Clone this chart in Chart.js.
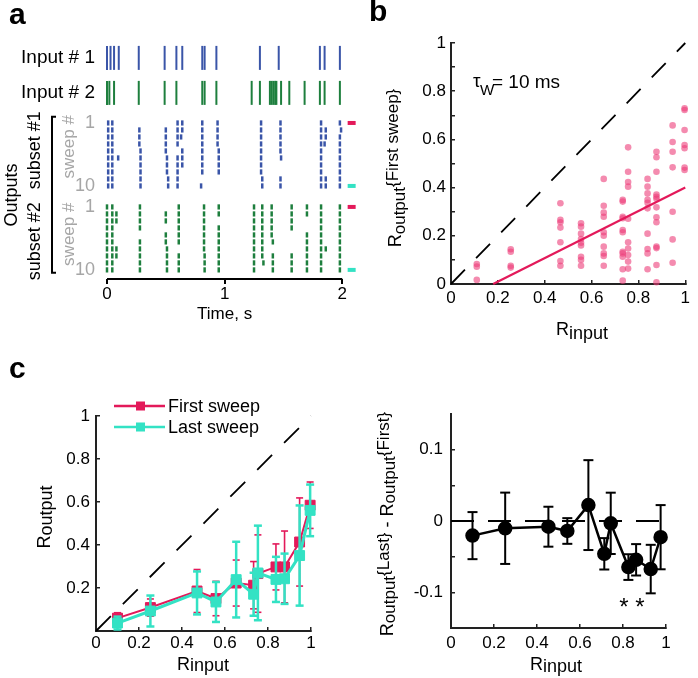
<!DOCTYPE html>
<html>
<head>
<meta charset="utf-8">
<script src="https://cdn.jsdelivr.net/npm/chart.js@4.4.1/dist/chart.umd.min.js"></script>
<style>
  body { margin: 0; background: #fff; width: 698px; height: 678px; overflow: hidden; position: relative; }
  canvas { position: absolute; }
</style>
</head>
<body>
<canvas id="chartA" width="368" height="330" style="left:0;top:0"></canvas>
<canvas id="chartB" width="348" height="350" style="left:350px;top:0"></canvas>
<canvas id="chartC1" width="350" height="348" style="left:0;top:330px"></canvas>
<canvas id="chartC2" width="348" height="348" style="left:350px;top:330px"></canvas>
<script>
// ---- panel a: spike times (s)
const input1Spikes = [0.0, 0.03, 0.06, 0.10, 0.27, 0.49, 0.59, 0.64, 0.81, 0.83, 0.93, 1.30, 1.46, 1.81, 1.85, 1.98];
const input2Spikes = [0.0, 0.02, 0.06, 0.27, 0.49, 0.59, 0.81, 0.83, 0.93, 1.23, 1.30, 1.385, 1.40, 1.415, 1.43, 1.44, 1.48, 1.55, 1.68, 1.81, 1.85, 1.98];
const subset1Sweeps = [
  [0.01, 0.045, 0.60, 0.64, 0.81, 0.94, 1.31, 1.475, 1.82, 1.98],
  [0.01, 0.045, 0.275, 0.50, 0.60, 0.64, 0.81, 0.94, 1.31, 1.475, 1.82, 1.86, 1.99],
  [0.01, 0.045, 0.275, 0.50, 0.60, 0.63, 0.81, 0.94, 1.31, 1.475, 1.82, 1.86, 1.98],
  [0.01, 0.045, 0.275, 0.50, 0.60, 0.81, 0.94, 1.31, 1.475, 1.82, 1.85, 1.98],
  [0.01, 0.045, 0.285, 0.50, 0.64, 0.81, 0.95, 1.31, 1.475, 1.82, 1.98],
  [0.01, 0.045, 0.095, 0.285, 0.51, 0.60, 0.64, 0.81, 0.95, 1.31, 1.48, 1.82, 1.98],
  [0.01, 0.045, 0.285, 0.51, 0.60, 0.64, 0.81, 0.95, 1.31, 1.82, 1.98],
  [0.01, 0.045, 0.285, 0.51, 0.60, 0.81, 0.95, 1.31, 1.82, 1.98],
  [0.01, 0.045, 0.285, 0.52, 0.60, 1.32, 1.475, 1.82, 1.86, 1.98],
  [0.01, 0.045, 0.285, 0.52, 0.60, 0.80, 1.32, 1.475, 1.82, 1.86, 1.98]
];
const subset2Sweeps = [
  [0.0, 0.045, 0.28, 0.61, 0.825, 0.95, 1.25, 1.32, 1.40, 1.57, 1.70, 1.82, 1.98],
  [0.0, 0.045, 0.08, 0.28, 0.50, 0.61, 0.825, 0.95, 1.25, 1.32, 1.40, 1.57, 1.70, 1.82, 1.98],
  [0.0, 0.045, 0.08, 0.28, 0.50, 0.61, 0.825, 1.25, 1.32, 1.40, 1.57, 1.82, 1.98],
  [0.0, 0.045, 0.28, 0.61, 0.825, 0.95, 1.25, 1.32, 1.40, 1.57, 1.82, 1.98],
  [0.0, 0.045, 0.50, 0.61, 0.825, 0.95, 1.25, 1.32, 1.40, 1.70, 1.82, 1.98],
  [0.0, 0.045, 0.28, 0.50, 0.61, 0.825, 0.95, 1.25, 1.32, 1.41, 1.70, 1.82, 1.98],
  [0.0, 0.045, 0.08, 0.28, 0.51, 0.825, 0.95, 1.25, 1.32, 1.70, 1.82, 1.86, 1.98],
  [0.0, 0.045, 0.08, 0.28, 0.51, 0.61, 0.83, 0.95, 1.25, 1.32, 1.41, 1.57, 1.70, 1.82, 1.98],
  [0.0, 0.045, 0.28, 0.51, 0.61, 0.83, 0.95, 1.25, 1.33, 1.41, 1.57, 1.70, 1.82, 1.98],
  [0.0, 0.045, 0.28, 0.51, 0.61, 0.83, 0.95, 1.25, 1.41, 1.57, 1.70, 1.82, 1.98]
];
const timeTicks = [0, 1, 2];
const rowLabels = ['Input # 1', 'Input # 2', '1', '10', '1', '10'];

// ---- panel b: R_input levels and R_output (first sweep) values
const bInputLevels = [0.11, 0.255, 0.467, 0.555, 0.652, 0.733, 0.756, 0.839, 0.877, 0.946, 0.997];
const bOutputValues = [
  [0.083, 0.072, 0.017],
  [0.144, 0.134, 0.076, 0.068],
  [0.335, 0.266, 0.256, 0.234, 0.173, 0.095, 0.076],
  [0.252, 0.238, 0.209, 0.187, 0.171, 0.16, 0.113, 0.1, 0.076],
  [0.436, 0.325, 0.296, 0.279, 0.215, 0.2, 0.155, 0.127, 0.116, 0.076],
  [0.349, 0.342, 0.279, 0.273, 0.224, 0.215, 0.134, 0.127, 0.113, 0.061, 0.014],
  [0.567, 0.466, 0.423, 0.404, 0.271, 0.173, 0.147, 0.12, 0.093, 0.064],
  [0.436, 0.404, 0.376, 0.349, 0.337, 0.314, 0.209, 0.145, 0.127, 0.061],
  [0.549, 0.526, 0.466, 0.371, 0.362, 0.354, 0.318, 0.277, 0.256, 0.155, 0.149, 0.079, 0.007],
  [0.658, 0.589, 0.549, 0.484, 0.3, 0.185, 0.088],
  [0.729, 0.722, 0.639, 0.577, 0.563, 0.483, 0.473]
];
const bFitX = [0.18, 1];
const bFitY = [0, 0.40];
const unitTicks = [0, 0.2, 0.4, 0.6, 0.8, 1];
const unitMinorTicks = [0, 0.1, 0.2, 0.3, 0.4, 0.5, 0.6, 0.7, 0.8, 0.9, 1];

// ---- panel c (left): mean +- error per R_input
const cInput = [0.10, 0.253, 0.47, 0.558, 0.652, 0.733, 0.753, 0.837, 0.877, 0.947, 0.996];
const firstMean = [0.06, 0.109, 0.186, 0.151, 0.223, 0.213, 0.267, 0.298, 0.298, 0.414, 0.585];
const firstErr = [0.025, 0.04, 0.10, 0.08, 0.107, 0.11, 0.18, 0.107, 0.167, 0.205, 0.108];
const lastMean = [0.037, 0.093, 0.177, 0.135, 0.239, 0.171, 0.27, 0.24, 0.243, 0.351, 0.561];
const lastErr = [0.03, 0.072, 0.10, 0.093, 0.176, 0.10, 0.22, 0.105, 0.117, 0.233, 0.12];
const cYTicks = [0.2, 0.4, 0.6, 0.8, 1];

// ---- panel c (right): difference last - first
const dInput = [0.10, 0.252, 0.453, 0.541, 0.639, 0.713, 0.743, 0.825, 0.861, 0.929, 0.975];
const dMean = [-0.0205, -0.0102, -0.008, -0.014, 0.0223, -0.046, -0.0033, -0.0646, -0.0544, -0.0674, -0.0227];
const dErr = [0.033, 0.05, 0.028, 0.018, 0.063, 0.022, 0.043, 0.018, 0.022, 0.034, 0.045];
const dYTicks = [-0.1, -0.05, 0, 0.05, 0.1];
const dYLabels = {'-0.1': '-0.1', '0': '0', '0.1': '0.1'};

const FONT = '"Liberation Sans", Arial, Helvetica, sans-serif';
const BLUE = '#3a55a8';
const GREEN = '#1e7f3e';
const RED = '#e3195a';
const CYAN = '#33e2c4';
const PINK = 'rgba(236, 62, 122, 0.6)';
const AXIS = '#222';

Chart.defaults.font.family = FONT;
Chart.defaults.color = '#000';
Chart.defaults.animation = false;
Chart.defaults.events = [];
Chart.defaults.plugins.legend.display = false;
Chart.defaults.plugins.tooltip.enabled = false;

// row layout of the raster (y axis in row units)
const ROW_IN1 = 0.7, ROW_IN2 = 5.7, ROW_SUB1 = 10, ROW_SUB2 = 22, A_YMIN = -1, A_YMAX = 32.3;

const fixWidth = w => s => { s.width = w; };
const fixHeight = h => s => { s.height = h; };
const setTicks = vals => s => { s.ticks = vals.map(v => ({value: v})); };
const fmt = v => String(Math.round(v * 100) / 100);

function richText(ctx, parts, x, y, rotate) {
  ctx.save();
  ctx.translate(x, y);
  if (rotate) ctx.rotate(-Math.PI / 2);
  ctx.textBaseline = 'alphabetic';
  ctx.textAlign = 'left';
  ctx.fillStyle = '#000';
  let total = 0;
  const widths = parts.map(p => {
    ctx.font = p[1] + 'px ' + FONT;
    const w = ctx.measureText(p[0]).width;
    total += w;
    return w;
  });
  let cx = -total / 2;
  parts.forEach((p, i) => {
    ctx.font = p[1] + 'px ' + FONT;
    ctx.fillText(p[0], cx, p[2] || 0);
    cx += widths[i];
  });
  ctx.restore();
}

function rotatedLabel(ctx, text, x, y, size, color) {
  ctx.save();
  ctx.translate(x, y);
  ctx.rotate(-Math.PI / 2);
  ctx.font = size + 'px ' + FONT;
  ctx.fillStyle = color;
  ctx.textAlign = 'center';
  ctx.textBaseline = 'middle';
  ctx.fillText(text, 0, 0);
  ctx.restore();
}

function panelLetter(ctx, letter, x, y) {
  ctx.save();
  ctx.font = 'bold 30px ' + FONT;
  ctx.fillStyle = '#000';
  ctx.textBaseline = 'alphabetic';
  ctx.fillText(letter, x, y);
  ctx.restore();
}

function errorBarData(xs, means, errs) {
  const pts = [];
  xs.forEach((x, i) => {
    pts.push({x: x, y: means[i] - errs[i]}, {x: x, y: means[i] + errs[i]}, {x: x, y: null});
  });
  return pts;
}

function linAxis(min, max, ticks, labelFn, size, padding, fit, extra) {
  return Object.assign({
    type: 'linear', min: min, max: max,
    afterBuildTicks: setTicks(ticks),
    grid: {display: true, drawOnChartArea: false, drawTicks: true, tickLength: -4, color: AXIS, lineWidth: 1.5},
    border: {display: true, color: AXIS, width: 2},
    ticks: {font: {size: size}, padding: padding, autoSkip: false, maxRotation: 0, callback: labelFn}
  }, fit, extra || {});
}

// ---------------- panel a: raster
const spikeSet = (pts, color, r, w) => ({
  data: pts, pointStyle: 'line', pointRotation: 90, pointRadius: r,
  pointBorderWidth: w, pointBorderColor: color, borderColor: color, clip: false
});
const rowPoints = (times, row) => times.map(t => ({x: t, y: row}));
const sweepPoints = (sweeps, row0) => sweeps.flatMap((ts, k) => ts.map(t => ({x: t, y: row0 + k})));

const panelAPlugin = {
  id: 'panelA',
  afterDraw(chart) {
    const ctx = chart.ctx, ys = chart.scales.y, xs = chart.scales.x;
    panelLetter(ctx, 'a', 9, 24);
    rotatedLabel(ctx, 'Outputs', 12, ys.getPixelForValue(20.3), 18, '#000');
    rotatedLabel(ctx, 'subset #1', 35, ys.getPixelForValue(13.9), 18, '#000');
    rotatedLabel(ctx, 'subset #2', 35, ys.getPixelForValue(26.9), 18, '#000');
    rotatedLabel(ctx, 'sweep #', 69, ys.getPixelForValue(13.4), 17, '#a6a6a6');
    rotatedLabel(ctx, 'sweep #', 69, ys.getPixelForValue(25.9), 17, '#a6a6a6');
    // bracket grouping the two subsets
    const top = ys.getPixelForValue(9.1), bot = ys.getPixelForValue(31.4);
    ctx.save();
    ctx.strokeStyle = '#000';
    ctx.lineWidth = 2;
    ctx.beginPath();
    ctx.moveTo(56, top); ctx.lineTo(52, top); ctx.lineTo(52, bot); ctx.lineTo(56, bot);
    ctx.stroke();
    ctx.font = '17px ' + FONT;
    ctx.fillStyle = '#000';
    ctx.textAlign = 'center';
    ctx.textBaseline = 'alphabetic';
    ctx.fillText('Time, s', xs.getPixelForValue(1), 319);
    ctx.restore();
  }
};

new Chart(document.getElementById('chartA'), {
  type: 'scatter',
  data: {
    datasets: [
      spikeSet(rowPoints(input1Spikes, ROW_IN1), BLUE, 12, 2),
      spikeSet(rowPoints(input2Spikes, ROW_IN2), GREEN, 12, 2),
      spikeSet(sweepPoints(subset1Sweeps, ROW_SUB1), BLUE, 2.6, 2.5),
      spikeSet(sweepPoints(subset2Sweeps, ROW_SUB2), GREEN, 2.6, 2.5),
      {
        data: [{x: 2.08, y: ROW_SUB1}, {x: 2.08, y: ROW_SUB1 + 9}, {x: 2.08, y: ROW_SUB2}, {x: 2.08, y: ROW_SUB2 + 9}],
        pointStyle: 'line', pointRadius: 4, pointBorderWidth: 4,
        pointBorderColor: [RED, CYAN, RED, CYAN], clip: false
      },
      {
        data: [{x: 0, y: A_YMAX}, {x: 2, y: A_YMAX}],
        showLine: true, borderColor: '#000', borderWidth: 2, pointRadius: 0, clip: false
      }
    ]
  },
  options: {
    responsive: false,
    devicePixelRatio: 1,
    layout: {padding: {left: 0, top: 46, right: 9, bottom: 0}},
    scales: {
      x: {
        type: 'linear', min: 0, max: 2.1,
        afterBuildTicks: setTicks(timeTicks), afterFit: fixHeight(51),
        grid: {display: true, drawOnChartArea: false, drawTicks: true, tickLength: 5, color: '#000', lineWidth: 2},
        border: {display: false},
        ticks: {font: {size: 17}, padding: 0, autoSkip: false, maxRotation: 0, callback: v => String(v)}
      },
      y: {
        type: 'linear', reverse: true, min: A_YMIN, max: A_YMAX,
        afterBuildTicks: setTicks([ROW_IN1, ROW_IN2, ROW_SUB1, ROW_SUB1 + 9, ROW_SUB2, ROW_SUB2 + 9]),
        afterFit: fixWidth(107),
        grid: {display: false, drawTicks: false}, border: {display: false},
        ticks: {
          font: c => ({size: c.index < 2 ? 19 : 18}), padding: 12, autoSkip: false,
          callback: (v, i) => rowLabels[i],
          color: c => (c.index < 2 ? '#000' : '#a6a6a6')
        }
      }
    }
  },
  plugins: [panelAPlugin]
});

// ---------------- panel b: scatter
const bPoints = bInputLevels.flatMap((x, i) => bOutputValues[i].map(y => ({x: x, y: y})));

const panelBPlugin = {
  id: 'panelB',
  afterDraw(chart) {
    const ctx = chart.ctx, a = chart.chartArea;
    panelLetter(ctx, 'b', 19, 21);
    richText(ctx, [['R', 18, 0], ['output', 17, 4], ['{First sweep}', 17, -3]], a.left - 50, 168, true);
    richText(ctx, [['R', 18, 0], ['input', 18, 4]], a.left + 131, 335, false);
    ctx.save();
    ctx.fillStyle = '#000';
    ctx.font = '19px ' + FONT;
    ctx.fillText('\u03c4', a.left + 22, 87);
    ctx.font = '15px ' + FONT;
    ctx.fillText('W', a.left + 29, 95);
    ctx.font = '19px ' + FONT;
    ctx.fillText('= 10 ms', a.left + 41, 88);
    ctx.restore();
  }
};

new Chart(document.getElementById('chartB'), {
  type: 'scatter',
  data: {
    datasets: [
      {data: bFitX.map((x, i) => ({x: x, y: bFitY[i]})), showLine: true, borderColor: RED, borderWidth: 2.2, pointRadius: 0, clip: false},
      {data: [{x: 0, y: 0}, {x: 1, y: 1}], showLine: true, borderColor: '#000', borderWidth: 1.8, borderDash: [20, 16], pointRadius: 0, clip: false},
      {data: bPoints, pointRadius: 3.3, pointBorderWidth: 0, pointBackgroundColor: PINK, pointBorderColor: PINK, clip: false}
    ]
  },
  options: {
    responsive: false,
    devicePixelRatio: 1,
    layout: {padding: {left: 0, top: 43, right: 5, bottom: 0}},
    scales: {
      x: linAxis(0, 1, unitTicks, fmt, 17, 8, {afterFit: fixHeight(66)}),
      y: linAxis(0, 1, unitMinorTicks, (v, i) => (i % 2 === 0 ? fmt(v) : ''), 17, 9, {afterFit: fixWidth(101)})
    }
  },
  plugins: [panelBPlugin]
});

// ---------------- panel c left: first vs last sweep
const legendItems = [['First sweep', RED], ['Last sweep', CYAN]];
const panelC1Plugin = {
  id: 'panelC1',
  afterDraw(chart) {
    const ctx = chart.ctx, a = chart.chartArea;
    panelLetter(ctx, 'c', 9, 48);
    richText(ctx, [['R', 18, 0], ['output', 18, 2]], a.left - 46, a.top + 101, true);
    richText(ctx, [['R', 18, 0], ['input', 18, 1]], a.left + 107, 340, false);
    ctx.save();
    legendItems.forEach((it, i) => {
      const y = a.top - 10 + i * 21;
      ctx.strokeStyle = it[1];
      ctx.fillStyle = it[1];
      ctx.lineWidth = 2.5;
      ctx.beginPath();
      ctx.moveTo(a.left + 18, y); ctx.lineTo(a.left + 69, y);
      ctx.stroke();
      ctx.fillRect(a.left + 40, y - 4.5, 9, 9);
      ctx.fillStyle = '#000';
      ctx.font = '18px ' + FONT;
      ctx.textBaseline = 'middle';
      ctx.fillText(it[0], a.left + 72, y + 1);
    });
    ctx.restore();
  }
};

const meanSet = (xs, ys, color, width) => ({
  data: xs.map((x, i) => ({x: x, y: ys[i]})), showLine: true, borderColor: color, borderWidth: width,
  pointStyle: 'rect', pointRadius: 7, pointBackgroundColor: color, pointBorderColor: color, pointBorderWidth: 1, clip: false
});
const errSet = (xs, ys, es, color, width, cap) => ({
  data: errorBarData(xs, ys, es), showLine: true, spanGaps: false, borderColor: color, borderWidth: width,
  pointStyle: 'line', pointRadius: cap, pointBorderWidth: width, pointBorderColor: color, clip: false
});

new Chart(document.getElementById('chartC1'), {
  type: 'scatter',
  data: {
    datasets: [
      meanSet(cInput, lastMean, CYAN, 3),
      errSet(cInput, lastMean, lastErr, CYAN, 2.5, 4),
      meanSet(cInput, firstMean, RED, 2),
      errSet(cInput, firstMean, firstErr, RED, 1.6, 3.5),
      {data: [{x: 0, y: 0}, {x: 1, y: 1}], showLine: true, borderColor: '#000', borderWidth: 1.8, borderDash: [21, 17], pointRadius: 0, clip: false}
    ]
  },
  options: {
    responsive: false,
    devicePixelRatio: 1,
    layout: {padding: {left: 0, top: 86, right: 39, bottom: 0}},
    scales: {
      x: linAxis(0, 1, unitTicks, fmt, 17, 6, {afterFit: fixHeight(47)}),
      y: linAxis(0, 1, cYTicks, fmt, 17, 10, {afterFit: fixWidth(96)})
    }
  },
  plugins: [panelC1Plugin]
});

// ---------------- panel c right: difference
const panelC2Plugin = {
  id: 'panelC2',
  afterDraw(chart) {
    const ctx = chart.ctx, a = chart.chartArea, xs = chart.scales.x, ys = chart.scales.y;
    richText(ctx, [['R', 18, 0], ['output', 17, 2], ['{Last}', 17, -4], [' - ', 18, 0], ['R', 18, 0], ['output', 17, 2], ['{First}', 17, -4]], a.left - 58, a.top + 110, true);
    richText(ctx, [['R', 18, 0], ['input', 18, 2]], a.left + 105, 340, false);
    ctx.save();
    ctx.fillStyle = '#000';
    ctx.font = '24px ' + FONT;
    ctx.textAlign = 'center';
    ctx.textBaseline = 'middle';
    ctx.fillText('* *', xs.getPixelForValue(0.842), ys.getPixelForValue(-0.122));
    ctx.restore();
  }
};

new Chart(document.getElementById('chartC2'), {
  type: 'scatter',
  data: {
    datasets: [
      {
        data: dInput.map((x, i) => ({x: x, y: dMean[i]})), showLine: true, borderColor: '#000', borderWidth: 2.5,
        pointStyle: 'circle', pointRadius: 6, pointBackgroundColor: '#000', pointBorderColor: '#000', clip: false
      },
      errSet(dInput, dMean, dErr, '#000', 2, 5),
      {data: [{x: 0, y: 0}, {x: 1, y: 0}], showLine: true, borderColor: '#000', borderWidth: 2, borderDash: [23, 14], pointRadius: 0, clip: false}
    ]
  },
  options: {
    responsive: false,
    devicePixelRatio: 1,
    layout: {padding: {left: 0, top: 84, right: 32, bottom: 0}},
    scales: {
      x: linAxis(0, 1, unitTicks, fmt, 17, 9, {afterFit: fixHeight(50)}),
      y: linAxis(-0.15, 0.15, dYTicks, v => dYLabels[fmt(v)] || '', 17, 12, {afterFit: fixWidth(101)})
    }
  },
  plugins: [panelC2Plugin]
});
</script>
</body>
</html>
